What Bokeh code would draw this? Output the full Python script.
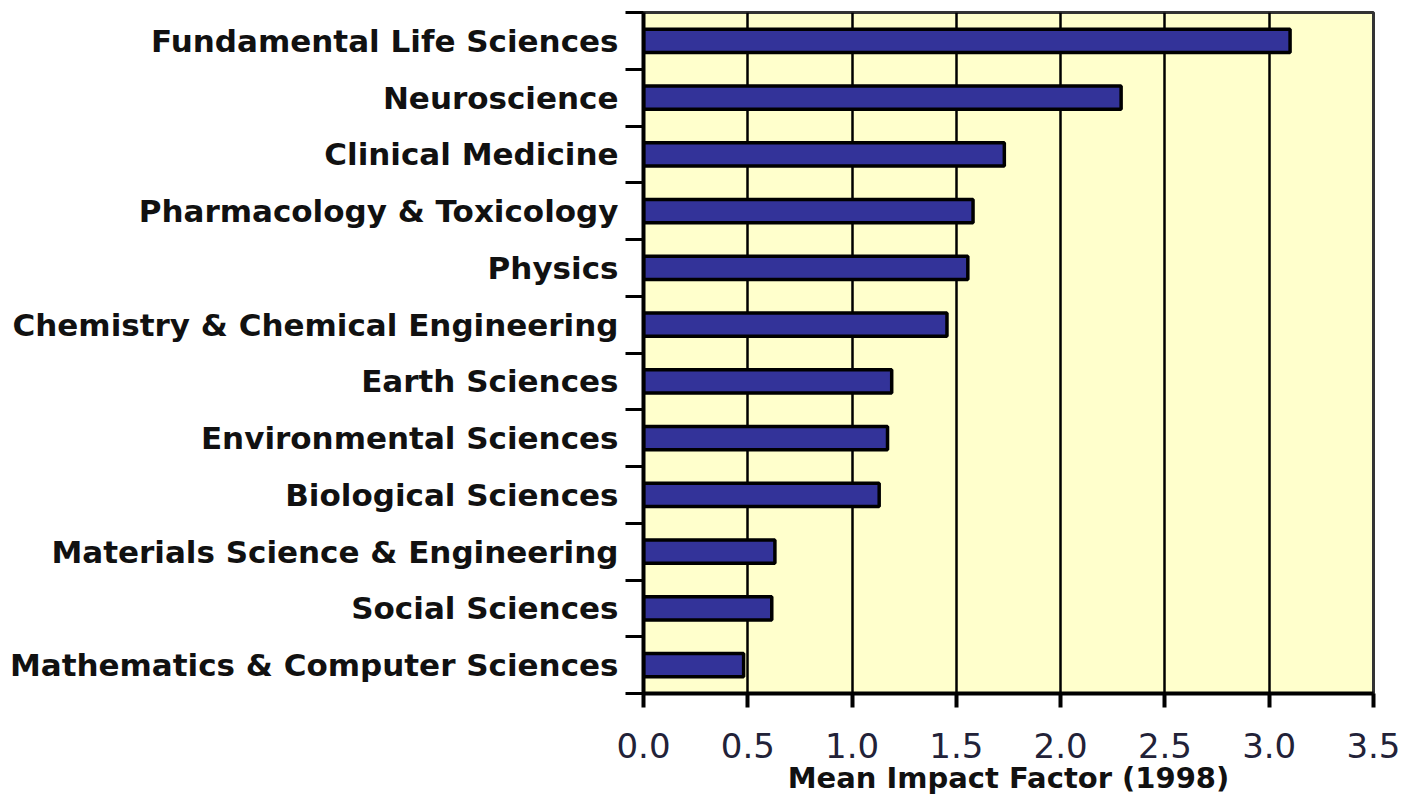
from bokeh.plotting import figure
from bokeh.models import FixedTicker, NumeralTickFormatter, ColumnDataSource
from bokeh.embed import file_html
from bokeh.resources import INLINE

categories = [
    "Fundamental Life Sciences",
    "Neuroscience",
    "Clinical Medicine",
    "Pharmacology & Toxicology",
    "Physics",
    "Chemistry & Chemical Engineering",
    "Earth Sciences",
    "Environmental Sciences",
    "Biological Sciences",
    "Materials Science & Engineering",
    "Social Sciences",
    "Mathematics & Computer Sciences",
]
values = [3.10, 2.29, 1.73, 1.58, 1.555, 1.455, 1.19, 1.17, 1.13, 0.63, 0.615, 0.48]
x_ticks = [0.0, 0.5, 1.0, 1.5, 2.0, 2.5, 3.0, 3.5]
x_title = "Mean Impact Factor (1998)"

n = len(categories)
ypos = [n - 1 - i for i in range(n)]
src = ColumnDataSource(dict(y=ypos, v=values, name=categories))

p = figure(frame_width=730, frame_height=681, x_range=(0, 3.5), y_range=(-0.5, n - 0.5),
           output_backend="svg", toolbar_location=None,
           min_border_left=643, min_border_right=27, min_border_top=12, min_border_bottom=90)

p.background_fill_color = "#FFFFCC"
p.border_fill_color = "white"
p.outline_line_color = "#333333"
p.outline_line_width = 3

p.hbar(y="y", left=0, right="v", height=0.41, source=src,
       fill_color="#333399", line_color="black", line_width=3.5)

# grid
p.ygrid.visible = False
p.xgrid.ticker = FixedTicker(ticks=x_ticks[1:-1])
p.xgrid.grid_line_color = "black"
p.xgrid.grid_line_width = 2.5

# left axis
ya = p.yaxis[0]
ya.ticker = FixedTicker(ticks=ypos, minor_ticks=[k - 0.5 for k in range(n + 1)])
ya.major_label_overrides = {yy: nm for yy, nm in zip(ypos, categories)}
ya.major_tick_line_color = None
ya.major_tick_out = 0
ya.major_tick_in = 0
ya.minor_tick_line_color = "black"
ya.minor_tick_line_width = 3
ya.minor_tick_out = 18
ya.minor_tick_in = 0
ya.axis_line_color = "black"
ya.axis_line_width = 4
ya.major_label_standoff = 7
ya.major_label_text_font = "DejaVu Sans"
ya.major_label_text_font_style = "bold"
ya.major_label_text_font_size = "31px"
ya.major_label_text_color = "#111111"

# bottom axis
xa = p.xaxis[0]
xa.ticker = FixedTicker(ticks=x_ticks)
xa.formatter = NumeralTickFormatter(format="0.0")
xa.major_tick_out = 14
xa.major_tick_in = 0
xa.major_tick_line_width = 4
xa.major_tick_line_color = "black"
xa.minor_tick_line_color = None
xa.axis_line_color = "black"
xa.axis_line_width = 4
xa.major_label_standoff = 25
xa.major_label_text_font = "DejaVu Sans"
xa.major_label_text_font_size = "34px"
xa.major_label_text_color = "#222238"
xa.axis_label = x_title
xa.axis_label_text_font = "DejaVu Sans"
xa.axis_label_text_font_style = "bold"
xa.axis_label_text_font_size = "29px"
xa.axis_label_text_color = "#111111"
xa.axis_label_standoff = 0

open("out.html", "w").write(file_html(p, INLINE))
